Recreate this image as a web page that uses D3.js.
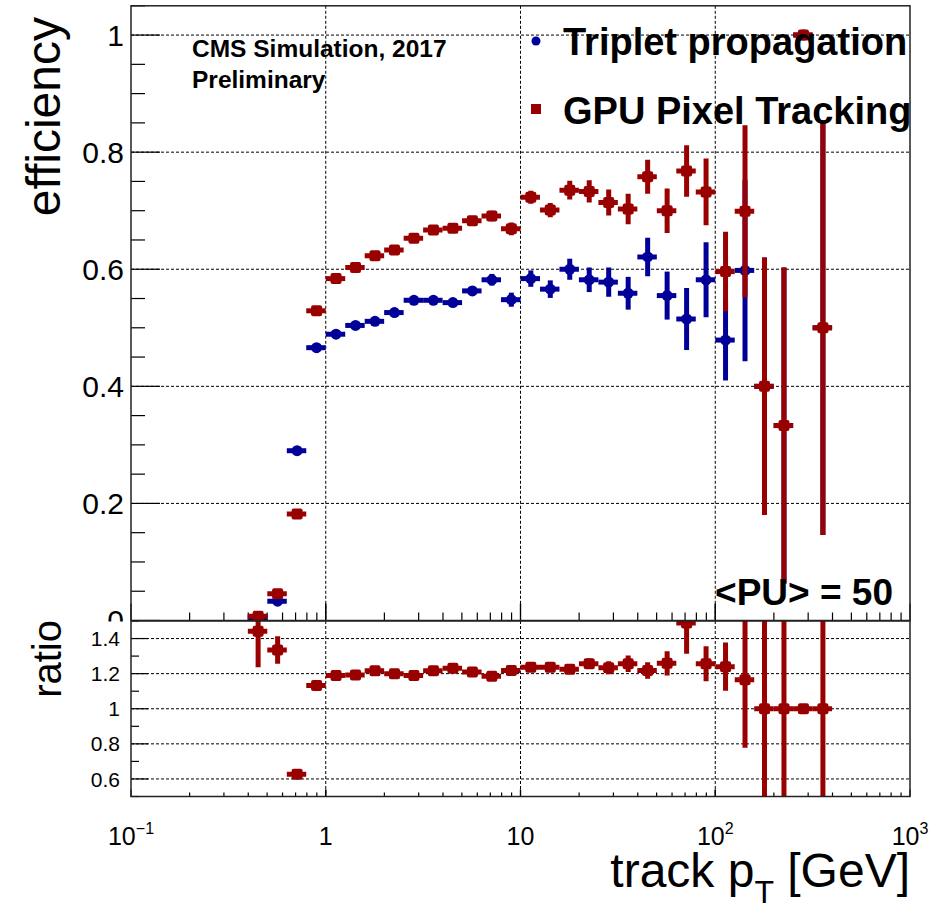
<!DOCTYPE html>
<html>
<head>
<meta charset="utf-8">
<script src="https://cdn.jsdelivr.net/npm/d3@7"></script>
<style>
html,body{margin:0;padding:0;background:#fff;}
svg{display:block;font-family:"Liberation Sans",Arial,Helvetica,sans-serif;}
</style>
</head>
<body>
<svg id="chart" width="938" height="913"></svg>
<script>
// ---------- DATA ----------
// bin edges of track pT [GeV]
const binEdges = [0.398, 0.501, 0.631, 0.794, 1.0, 1.259, 1.585, 1.995, 2.512, 3.162, 3.981,
  5.012, 6.310, 7.943, 10.0, 12.59, 15.85, 19.95, 25.12, 31.62, 39.81,
  50.12, 63.10, 79.43, 100.0, 125.9, 158.5, 199.5, 251.2, 316.2, 398.1];
// Triplet propagation efficiency
const tripletEff = [0.005, 0.033, 0.290, 0.466, 0.489, 0.504, 0.511, 0.526, 0.547, 0.547,
  0.543, 0.563, 0.582, 0.548, 0.584, 0.566, 0.600, 0.582, 0.578, 0.559,
  0.621, 0.555, 0.515, 0.582, 0.479, 0.598, 0.400, 0.333, 1.000, 0.500];
const tripletErr = [0.002, 0.004, 0.005, 0.004, 0.004, 0.004, 0.005, 0.005, 0.006, 0.006,
  0.007, 0.008, 0.010, 0.012, 0.014, 0.015, 0.018, 0.021, 0.025, 0.028,
  0.033, 0.041, 0.053, 0.064, 0.069, 0.155, 0.220, 0.270, 0.000, 0.354];
// GPU Pixel Tracking efficiency
const gpuEff = [0.0073, 0.0455, 0.182, 0.529, 0.584, 0.603, 0.623, 0.633, 0.653, 0.667,
  0.670, 0.683, 0.691, 0.669, 0.723, 0.701, 0.735, 0.733, 0.714, 0.703,
  0.758, 0.700, 0.768, 0.732, 0.596, 0.699, 0.400, 0.333, 1.000, 0.500];
const gpuErr = [0.002, 0.004, 0.004, 0.004, 0.004, 0.004, 0.004, 0.005, 0.005, 0.006,
  0.006, 0.007, 0.009, 0.011, 0.011, 0.012, 0.016, 0.019, 0.022, 0.026,
  0.029, 0.038, 0.044, 0.057, 0.068, 0.147, 0.220, 0.270, 0.000, 0.354];
// ratio GPU / Triplet
const ratioVal = [1.441, 1.335, 0.627, 1.132, 1.189, 1.193, 1.216, 1.199, 1.189, 1.216,
  1.231, 1.210, 1.185, 1.218, 1.236, 1.236, 1.225, 1.256, 1.233, 1.256,
  1.218, 1.259, 1.489, 1.256, 1.240, 1.165, 1.000, 1.000, 1.000, 1.000];
const ratioErr = [0.205, 0.078, 0.010, 0.010, 0.010, 0.010, 0.011, 0.011, 0.012, 0.012,
  0.013, 0.014, 0.015, 0.016, 0.017, 0.019, 0.023, 0.030, 0.037, 0.047,
  0.047, 0.069, 0.176, 0.100, 0.137, 0.387, 0.900, 1.100, 0.000, 1.200];

const effTicks = [0, 0.2, 0.4, 0.6, 0.8, 1];
const effTickLabels = ["0", "0.2", "0.4", "0.6", "0.8", "1"];
const ratioTicks = [0.6, 0.8, 1.0, 1.2, 1.4];
const ratioTickLabels = ["0.6", "0.8", "1", "1.2", "1.4"];
const xTicks = [0.1, 1, 10, 100, 1000];
const xTickBase = ["10", "1", "10", "10", "10"];
const xTickExp = ["\u22121", "", "", "2", "3"];
const seriesNames = ["Triplet propagation", "GPU Pixel Tracking"];
const seriesColors = ["#000099", "#990000"];

// ---------- LAYOUT ----------
const svg = d3.select("#chart");
const L = 131, R = 910;
const topY0 = 620.5, topY1 = 5.8;
const rY0 = 796.5, rY1 = 621;

const x = d3.scaleLog().domain([0.1, 1000]).range([L, R]);
const y = d3.scaleLinear().domain([0, 1.05]).range([topY0, topY1]);
const yr = d3.scaleLinear().domain([0.5, 1.5]).range([rY0, rY1]);

const bins = binEdges.slice(0, -1).map((lo, i) => ({lo, hi: binEdges[i + 1], c: (lo + binEdges[i + 1]) / 2, i}));

const defs = svg.append("defs");
defs.append("clipPath").attr("id", "clipTop").append("rect")
  .attr("x", L).attr("y", topY1).attr("width", R - L).attr("height", topY0 - topY1);
defs.append("clipPath").attr("id", "clipRatio").append("rect")
  .attr("x", L).attr("y", rY1).attr("width", R - L).attr("height", rY0 - rY1);

const gridDash = "3,2";

// ===== TOP PAD =====
const topG = svg.append("g");
topG.selectAll(".hg").data(effTicks.filter(t => t > 0)).enter().append("line")
  .attr("x1", L).attr("x2", R).attr("y1", d => y(d)).attr("y2", d => y(d))
  .attr("stroke", "#000").attr("stroke-width", 1).attr("stroke-dasharray", gridDash);
topG.selectAll(".vg").data([1, 10, 100]).enter().append("line")
  .attr("x1", d => x(d)).attr("x2", d => x(d)).attr("y1", topY1).attr("y2", topY0)
  .attr("stroke", "#000").attr("stroke-width", 1).attr("stroke-dasharray", gridDash);

const yMinor = d3.range(0, 1.0501, 0.05);
topG.selectAll(".ymt").data(yMinor).enter().append("line")
  .attr("x1", L).attr("x2", (d, i) => L + (i % 4 === 0 ? 29 : 14))
  .attr("y1", d => y(d)).attr("y2", d => y(d))
  .attr("stroke", "#000").attr("stroke-width", 1.2);
const xMinor = [];
[0.1, 1, 10, 100].forEach(dec => { for (let k = 1; k <= 10; k++) xMinor.push({v: dec * k, major: k === 1 || k === 10}); });
topG.selectAll(".xmt").data(xMinor).enter().append("line")
  .attr("x1", d => x(d.v)).attr("x2", d => x(d.v))
  .attr("y1", topY0).attr("y2", d => topY0 - (d.major ? 17 : 8))
  .attr("stroke", "#000").attr("stroke-width", 1.2);

topG.selectAll(".ylab").data(effTicks).enter().append("text")
  .attr("x", 124).attr("y", d => y(d)).attr("dy", "0.36em")
  .attr("text-anchor", "end").attr("font-size", 30).text((d, i) => effTickLabels[i]);

function drawSeries(g, vals, errs, ys, color, shape, clipId) {
  const gg = g.append("g").attr("clip-path", `url(#${clipId})`);
  const pts = bins.map(b => ({b, v: vals[b.i], e: errs[b.i]}));
  gg.selectAll(".hb").data(pts).enter().append("line")
    .attr("x1", d => x(d.b.lo)).attr("x2", d => x(d.b.hi))
    .attr("y1", d => ys(d.v)).attr("y2", d => ys(d.v))
    .attr("stroke", color).attr("stroke-width", 5);
  gg.selectAll(".vb").data(pts.filter(d => d.e > 0)).enter().append("line")
    .attr("x1", d => x(d.b.c)).attr("x2", d => x(d.b.c))
    .attr("y1", d => ys(d.v - d.e)).attr("y2", d => ys(d.v + d.e))
    .attr("stroke", color).attr("stroke-width", 5);
  if (shape === "circle") {
    gg.selectAll(".mk").data(pts).enter().append("circle")
      .attr("cx", d => x(d.b.c)).attr("cy", d => ys(d.v)).attr("r", 5.5).attr("fill", color);
  } else {
    gg.selectAll(".mk").data(pts).enter().append("rect")
      .attr("x", d => x(d.b.c) - 5.5).attr("y", d => ys(d.v) - 5.5)
      .attr("width", 11).attr("height", 11).attr("rx", 2).attr("fill", color);
  }
}
drawSeries(topG, tripletEff, tripletErr, y, seriesColors[0], "circle", "clipTop");
drawSeries(topG, gpuEff, gpuErr, y, seriesColors[1], "square", "clipTop");

topG.append("rect").attr("x", L).attr("y", topY1).attr("width", R - L).attr("height", topY0 - topY1)
  .attr("fill", "none").attr("stroke", "#222").attr("stroke-width", 1.5);

topG.append("text").attr("x", 192).attr("y", 57).attr("font-size", 24.5).attr("font-weight", "bold")
  .text("CMS Simulation, 2017");
topG.append("text").attr("x", 192).attr("y", 88).attr("font-size", 24.5).attr("font-weight", "bold")
  .text("Preliminary");
topG.append("text").attr("x", 893).attr("y", 605).attr("text-anchor", "end")
  .attr("font-size", 37).attr("font-weight", "bold").text("<PU> = 50");

const leg = topG.append("g");
const legRows = [{y: 41, base: 55}, {y: 109, base: 124}];
leg.append("circle").attr("cx", 536).attr("cy", legRows[0].y).attr("r", 4.5).attr("fill", seriesColors[0]);
leg.append("rect").attr("x", 531).attr("y", legRows[1].y - 5).attr("width", 10).attr("height", 10).attr("fill", seriesColors[1]);
seriesNames.forEach((n, i) => {
  leg.append("text").attr("x", 563).attr("y", legRows[i].base).attr("font-size", 38)
    .attr("font-weight", "bold").text(n);
});

svg.append("text").attr("transform", "translate(60,17) rotate(-90)")
  .attr("text-anchor", "end").attr("font-size", 48).text("efficiency");

// ===== RATIO PAD =====
svg.append("rect").attr("x", 0).attr("y", 621.5).attr("width", 938).attr("height", 913 - 621.5).attr("fill", "#fff");
const rp = svg.append("g");
rp.selectAll(".hg").data(ratioTicks).enter().append("line")
  .attr("x1", L).attr("x2", R).attr("y1", d => yr(d)).attr("y2", d => yr(d))
  .attr("stroke", "#000").attr("stroke-width", 1).attr("stroke-dasharray", gridDash);
rp.selectAll(".vg").data([1, 10, 100]).enter().append("line")
  .attr("x1", d => x(d)).attr("x2", d => x(d)).attr("y1", rY1).attr("y2", rY0)
  .attr("stroke", "#000").attr("stroke-width", 1).attr("stroke-dasharray", gridDash);
const rMinor = d3.range(0.5, 1.5001, 0.1);
rp.selectAll(".rmt").data(rMinor).enter().append("line")
  .attr("x1", L).attr("x2", (d, i) => L + (i % 2 === 1 ? 17 : 8))
  .attr("y1", d => yr(d)).attr("y2", d => yr(d))
  .attr("stroke", "#000").attr("stroke-width", 1.2);
rp.selectAll(".xmt").data(xMinor).enter().append("line")
  .attr("x1", d => x(d.v)).attr("x2", d => x(d.v))
  .attr("y1", rY0).attr("y2", d => rY0 - (d.major ? 7 : 4))
  .attr("stroke", "#000").attr("stroke-width", 1.2);
rp.selectAll(".rlab").data(ratioTicks).enter().append("text")
  .attr("x", 120).attr("y", d => yr(d)).attr("dy", "0.36em")
  .attr("text-anchor", "end").attr("font-size", 21).text((d, i) => ratioTickLabels[i]);

drawSeries(rp, ratioVal, ratioErr, yr, seriesColors[1], "square", "clipRatio");

rp.append("rect").attr("x", L).attr("y", rY1).attr("width", R - L).attr("height", rY0 - rY1)
  .attr("fill", "none").attr("stroke", "#222").attr("stroke-width", 1.5);

xTicks.forEach((t, i) => {
  const tx = rp.append("text").attr("x", x(t)).attr("y", 845).attr("text-anchor", "middle").attr("font-size", 25);
  tx.append("tspan").text(xTickBase[i]);
  if (xTickExp[i]) tx.append("tspan").attr("font-size", 16).attr("dy", -11).text(xTickExp[i]);
});

const xt = svg.append("text").attr("x", 910).attr("y", 887).attr("text-anchor", "end").attr("font-size", 48);
xt.append("tspan").text("track p");
xt.append("tspan").attr("font-size", 32).attr("dy", 16).text("T");
xt.append("tspan").attr("dy", -16).text(" [GeV]");
svg.append("text").attr("transform", "translate(61,620) rotate(-90)")
  .attr("text-anchor", "end").attr("font-size", 40).text("ratio");
</script>
</body>
</html>
